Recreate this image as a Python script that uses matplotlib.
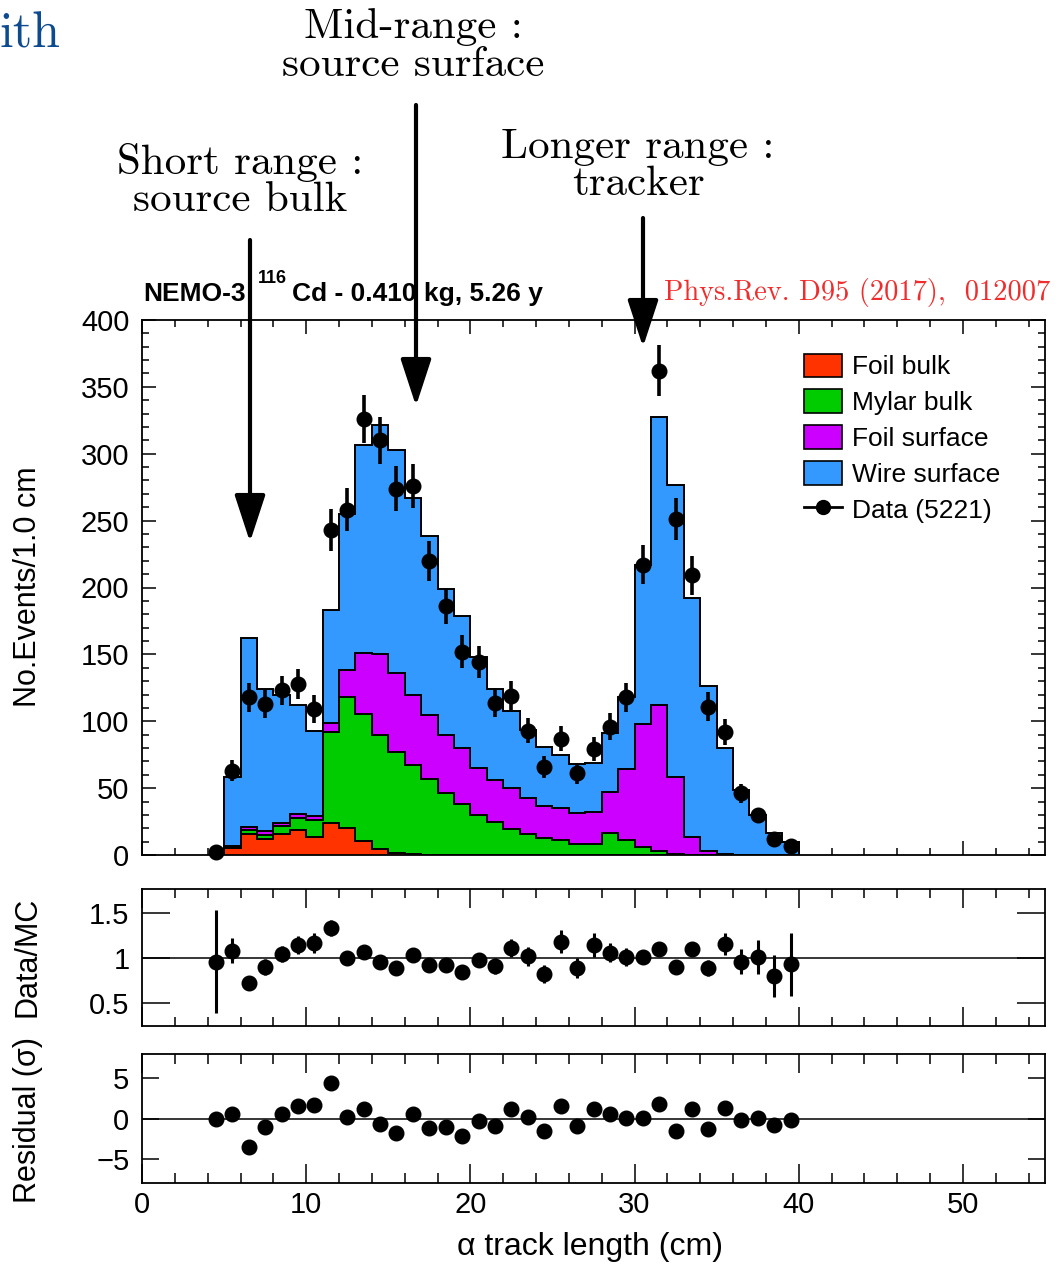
import numpy as np
import matplotlib
matplotlib.use("Agg")
import matplotlib.pyplot as plt
from matplotlib.patches import Patch, FancyArrowPatch
from matplotlib.lines import Line2D
from matplotlib.ticker import MultipleLocator

# bin edges 4..40 cm, 1 cm bins
edges = np.arange(4, 41)
centers = edges[:-1] + 0.5

# MC components per bin (stack order bottom -> top)
foil_bulk = [0, 5, 15.5, 11.7, 16, 18.7, 13.2, 24, 20, 10.7, 4.3, 1.3, 0.5, 0.3, 0.2, 0.1,
             0, 0, 0, 0, 0, 0, 0, 0, 0, 0, 0, 0, 0, 0, 0, 0, 0, 0, 0, 0]
mylar_bulk = [0, 1, 3.2, 3.3, 5.7, 8.7, 12.8, 68, 98, 94.7, 85.4, 75.7, 66.5, 56.3, 45.8, 37.9,
              30, 25, 19.4, 15.4, 12.4, 11.2, 8, 8.2, 16.2, 11, 6, 2.8, 0.5, 0.2, 0, 0, 0, 0, 0, 0]
foil_surface = [0, 1, 2, 3, 2.5, 3.6, 3.4, 7, 20, 45.6, 60.3, 59, 52.6, 48.1, 43.7, 41.8,
                35, 31, 30.4, 27, 24.5, 24.2, 23.6, 23.9, 31.1, 53.5, 92, 109.5, 57.8, 13.3, 3.2, 0.5, 0, 0, 0, 0]
wire_surface = [0, 51, 141.3, 106, 95.8, 81, 63.6, 84, 117, 155.5, 171.5, 167, 147.4, 133.8, 109.3, 98.9,
                82.7, 68, 58.2, 51.1, 43.6, 39.4, 36.4, 36.4, 43.7, 53.5, 119, 215.4, 218.7, 178.5,
                123.2, 79.3, 48.6, 30, 16.2, 10]

# data (5221 events)
data = [2, 63, 118, 113, 123, 128, 109, 243, 258, 326, 310, 274, 276, 220, 186, 152,
        144, 114, 119, 93, 66, 87, 61, 79, 96, 118, 217, 362, 251, 209, 111, 92, 46, 30, 12, 7]
data_err = [1.4, 7.9, 10.9, 10.6, 11.1, 11.3, 10.4, 15.6, 16.1, 18.1, 17.6, 16.6, 16.6, 14.8, 13.6, 12.3,
            12, 10.7, 10.9, 9.6, 8.1, 9.3, 7.8, 8.9, 9.8, 10.9, 14.7, 19, 15.8, 14.5, 10.5, 9.6, 6.8, 5.5, 3.5, 2.6]

ratio = [0.96, 1.08, 0.72, 0.90, 1.04, 1.14, 1.17, 1.33, 1.00, 1.07, 0.96, 0.89, 1.03, 0.92, 0.92, 0.85,
         0.98, 0.91, 1.11, 1.02, 0.82, 1.18, 0.89, 1.14, 1.06, 1.01, 1.01, 1.10, 0.90, 1.10, 0.89, 1.15,
         0.96, 1.01, 0.80, 0.93]
ratio_err = [0.57, 0.14, 0.07, 0.085, 0.09, 0.1, 0.11, 0.085, 0.065, 0.06, 0.055, 0.055, 0.06, 0.06, 0.07, 0.07,
             0.08, 0.085, 0.1, 0.105, 0.1, 0.125, 0.115, 0.13, 0.11, 0.095, 0.07, 0.06, 0.06, 0.075, 0.085, 0.12,
             0.14, 0.19, 0.23, 0.35]

residual = [-0.1, 0.54, -3.5, -1.03, 0.54, 1.53, 1.65, 4.42, 0.2, 1.16, -0.74, -1.78, 0.62, -1.12, -1.03, -2.15,
            -0.29, -0.95, 1.16, 0.2, -1.53, 1.57, -0.95, 1.24, 0.54, 0.12, 0.12, 1.86, -1.53, 1.24, -1.32, 1.32,
            -0.2, 0.12, -0.83, -0.2]

labels = ["Foil bulk", "Mylar bulk", "Foil surface", "Wire surface"]
colors = ["#ff3300", "#00cc00", "#cc00ff", "#3399ff"]

sans = ["Liberation Sans", "DejaVu Sans"]
plt.rcParams["font.family"] = sans

W, H = 1060, 1271
fig = plt.figure(figsize=(W / 100, H / 100), dpi=100)


def rect(left, top, right, bottom):
    return [left / W, 1 - bottom / H, (right - left) / W, (bottom - top) / H]


def fy(py):
    return 1 - py / H


ax = fig.add_axes(rect(142, 320, 1045, 855))
ax_r = fig.add_axes(rect(142, 889, 1045, 1026))
ax_s = fig.add_axes(rect(142, 1054, 1045, 1183))

# stacked histogram
stack = np.cumsum([foil_bulk, mylar_bulk, foil_surface, wire_surface], axis=0)
for i in range(3, -1, -1):
    ax.stairs(stack[i], edges, baseline=0, fill=True, color=colors[i], zorder=2 + (3 - i) * 0.1)
    ax.stairs(stack[i], edges, baseline=0, fill=False, color="black", lw=1.4, zorder=2.5)

ax.errorbar(centers, data, yerr=data_err, fmt="o", color="black", ms=10.5, elinewidth=2.6,
            capsize=0, zorder=4, clip_on=False)

ax.set_xlim(0, 55)
ax.set_ylim(0, 400)
ax.xaxis.set_major_locator(MultipleLocator(10))
ax.xaxis.set_minor_locator(MultipleLocator(2))
ax.yaxis.set_major_locator(MultipleLocator(50))
ax.yaxis.set_minor_locator(MultipleLocator(10))
ax.tick_params(which="both", direction="in", top=True, right=True, width=1.1, labelsize=21, pad=9)
ax.tick_params(which="major", length=10)
ax.tick_params(which="minor", length=5)
ax.tick_params(axis="x", labelbottom=False)

handles = [Patch(facecolor=c, edgecolor="black", lw=1.2) for c in colors]
handles.append(Line2D([], [], color="black", marker="o", ms=10, lw=2))
ax.legend(handles, labels + ["Data (5221)"], loc="upper left", bbox_to_anchor=(0.721, 0.957),
          frameon=False, fontsize=19, handlelength=1.45, handleheight=1.0, labelspacing=0.38,
          handletextpad=0.4, borderaxespad=0)

# ratio panel
ax_r.errorbar(centers, ratio, yerr=ratio_err, fmt="o", color="black", ms=10.5, elinewidth=2.2,
              capsize=0, zorder=4)
ax_r.axhline(1, color="black", lw=1.1, zorder=1)
ax_r.set_xlim(0, 55)
ax_r.set_ylim(0.25, 1.76)
ax_r.set_yticks([0.5, 1, 1.5])
ax_r.set_yticklabels(["0.5", "1", "1.5"])
ax_r.xaxis.set_major_locator(MultipleLocator(10))
ax_r.xaxis.set_minor_locator(MultipleLocator(2))
ax_r.tick_params(which="both", direction="in", top=True, right=True, width=1.1, labelsize=21, pad=9)
ax_r.tick_params(axis="x", which="major", length=14)
ax_r.tick_params(axis="x", which="minor", length=6.5)
ax_r.tick_params(axis="y", which="major", length=20)
ax_r.tick_params(axis="x", labelbottom=False)

# residual panel
ax_s.plot(centers, residual, "o", color="black", ms=10.5, zorder=4)
ax_s.axhline(0, color="black", lw=1.1, zorder=1)
ax_s.set_xlim(0, 55)
ax_s.set_ylim(-8, 8)
ax_s.set_yticks([-5, 0, 5])
ax_s.set_yticklabels(["\u22125", "0", "5"])
ax_s.xaxis.set_major_locator(MultipleLocator(10))
ax_s.xaxis.set_minor_locator(MultipleLocator(2))
ax_s.tick_params(which="both", direction="in", top=True, right=True, width=1.1, labelsize=21, pad=9)
ax_s.tick_params(axis="x", which="major", length=14, pad=6)
ax_s.tick_params(axis="x", which="minor", length=7)
ax_s.tick_params(axis="y", which="major", length=12)

for a in (ax, ax_r, ax_s):
    for sp in a.spines.values():
        sp.set_linewidth(1.3)

# axis titles
fig.text(28 / W, fy(587), "No.Events/1.0 cm", rotation=90, ha="center", va="center", fontsize=22)
fig.text(28 / W, fy(957), "Data/MC", rotation=90, ha="center", va="center", fontsize=22)
fig.text(28 / W, fy(1120), "Residual (\u03c3)", rotation=90, ha="center", va="center", fontsize=22)
fig.text(590 / W, fy(1247), "\u03b1 track length (cm)", ha="center", va="center", fontsize=23)

# header
fig.text(143 / W, fy(301), "NEMO-3", fontsize=19, weight="bold", va="baseline")
fig.text(258 / W, fy(283), "116", fontsize=13, weight="bold", va="baseline")
fig.text(292 / W, fy(301), "Cd - 0.410 kg, 5.26 y", fontsize=19, weight="bold", va="baseline")
fig.text(1050 / W, fy(300), "Phys.Rev. D95 (2017),  012007", fontsize=20.5, color="#f02c2c",
         family="cmr10", ha="right", va="baseline")

# slide annotations
fig.text(60 / W, fy(48), "ith", fontsize=36, color="#0d4a8f", family="cmr10", ha="right", va="baseline")
fig.text(413 / W, fy(46), "Mid-range :\nsource surface", fontsize=31, family="cmr10",
         ha="center", va="center", linespacing=1.0)
fig.text(240 / W, fy(181), "Short range :\nsource bulk", fontsize=31, family="cmr10",
         ha="center", va="center", linespacing=1.0)
fig.text(638 / W, fy(166), "Longer range :\ntracker", fontsize=31, family="cmr10",
         ha="center", va="center", linespacing=1.0)

for x, y0, y1 in [(250, 240, 542), (416, 105, 406), (643, 218, 347)]:
    arr = FancyArrowPatch((x / W, fy(y0)), (x / W, fy(y1)), transform=fig.transFigure,
                          arrowstyle="-|>,head_length=2.9,head_width=0.95", mutation_scale=10,
                          lw=3, color="black", shrinkA=0, shrinkB=0, zorder=10)
    fig.add_artist(arr)

fig.savefig("out.png", dpi=100)
